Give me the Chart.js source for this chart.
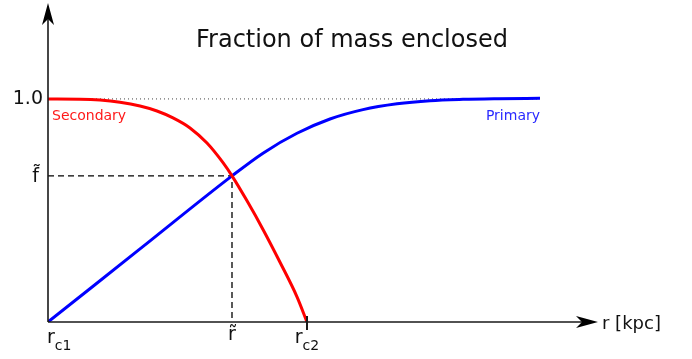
<!DOCTYPE html>
<html>
<head>
<meta charset="utf-8">
<script src="https://cdn.jsdelivr.net/npm/chart.js@4/dist/chart.umd.min.js"></script>
<style>
  html, body { margin: 0; padding: 0; background: #fff; }
  #wrap { width: 692px; height: 359px; position: relative; }
</style>
</head>
<body>
<div id="wrap"><canvas id="chart"></canvas></div>
<script>
// schematic: fraction of mass enclosed vs radius (arbitrary units)
const primaryR = [0, 0.92, 1.84, 2.15, 2.49, 2.82, 3.15, 3.49, 3.82, 4.15, 4.5, 4.92];
const primaryF = [0, 0.3275, 0.655, 0.757, 0.846, 0.910, 0.952, 0.978, 0.992, 0.998, 1.001, 1.003];

const secondaryR = [0, 0.32, 0.52, 0.72, 0.92, 1.09, 1.25, 1.42, 1.59, 1.75, 1.84, 1.99, 2.15, 2.32, 2.49, 2.59];
const secondaryF = [1.0, 0.999, 0.995, 0.985, 0.968, 0.946, 0.915, 0.870, 0.802, 0.714, 0.655, 0.543, 0.415, 0.268, 0.113, 0];

const rTilde = 1.84;   // crossing radius
const fTilde = 0.655;  // crossing fraction
const rc1 = 0;
const rc2 = 2.59;
const rEnd = 4.92;     // where the 1.0 reference line stops

const xMax = 5.5;
const yMax = 1.43;

const titleText = 'Fraction of mass enclosed';
const xAxisLabel = 'r [kpc]';

const toPts = (xs, ys) => xs.map((x, i) => ({ x: x, y: ys[i] }));

// axes with arrow heads, tick labels and annotations
const schematicPlugin = {
    id: 'schematic',
    afterDatasetsDraw(chart) {
        const ctx = chart.ctx;
        const xs = chart.scales.x;
        const ys = chart.scales.y;
        const x0 = xs.getPixelForValue(rc1);
        const y0 = ys.getPixelForValue(0);
        const xTip = xs.getPixelForValue(xMax);
        const yTip = ys.getPixelForValue(yMax);

        ctx.save();
        ctx.strokeStyle = '#1a1a1a';
        ctx.fillStyle = '#000';
        ctx.lineWidth = 1.6;
        ctx.beginPath();
        ctx.moveTo(x0, y0);
        ctx.lineTo(xTip - 10, y0);
        ctx.moveTo(x0, y0);
        ctx.lineTo(x0, yTip + 10);
        ctx.stroke();

        // arrow heads
        ctx.beginPath();
        ctx.moveTo(xTip, y0);
        ctx.lineTo(xTip - 22, y0 - 6);
        ctx.lineTo(xTip - 16, y0);
        ctx.lineTo(xTip - 22, y0 + 6);
        ctx.closePath();
        ctx.fill();
        ctx.beginPath();
        ctx.moveTo(x0, yTip);
        ctx.lineTo(x0 - 6, yTip + 22);
        ctx.lineTo(x0, yTip + 16);
        ctx.lineTo(x0 + 6, yTip + 22);
        ctx.closePath();
        ctx.fill();

        // tick at rc2
        const xc2 = xs.getPixelForValue(rc2);
        ctx.lineWidth = 2;
        ctx.beginPath();
        ctx.moveTo(xc2, y0 - 6);
        ctx.lineTo(xc2, y0 + 8);
        ctx.stroke();

        const font = (size) => size + 'px "DejaVu Sans", Verdana, sans-serif';

        // title
        ctx.fillStyle = '#111';
        ctx.font = font(24);
        ctx.textAlign = 'center';
        ctx.textBaseline = 'alphabetic';
        ctx.fillText(titleText, 352, 47);

        // y tick labels
        ctx.font = font(19);
        ctx.textAlign = 'right';
        ctx.textBaseline = 'middle';
        ctx.fillText('1.0', x0 - 5, ys.getPixelForValue(1.0));
        ctx.fillText('f\u0303', x0 - 9, ys.getPixelForValue(fTilde) + 1);

        // x tick labels
        ctx.textBaseline = 'alphabetic';
        const subLabel = (xPix, sub, center) => {
            ctx.font = font(19);
            const w1 = ctx.measureText('r').width;
            ctx.font = font(14);
            const w2 = ctx.measureText(sub).width;
            const left = center ? xPix - (w1 + w2) / 2 : xPix;
            ctx.textAlign = 'left';
            ctx.font = font(19);
            ctx.fillText('r', left, 343);
            ctx.font = font(14);
            ctx.fillText(sub, left + w1, 350);
        };
        subLabel(x0 - 1, 'c1', false);
        subLabel(xc2, 'c2', true);
        ctx.font = font(19);
        ctx.textAlign = 'center';
        ctx.fillText('r\u0303', xs.getPixelForValue(rTilde), 340);

        // axis label
        ctx.font = font(18);
        ctx.textAlign = 'left';
        ctx.textBaseline = 'middle';
        ctx.fillText(xAxisLabel, xTip + 4, y0 + 2);

        // curve labels
        ctx.font = font(14);
        ctx.textBaseline = 'middle';
        ctx.fillStyle = '#ff1a1a';
        ctx.textAlign = 'left';
        ctx.fillText('Secondary', x0 + 4, ys.getPixelForValue(1.0) + 17);
        ctx.fillStyle = '#2a2aff';
        ctx.textAlign = 'right';
        ctx.fillText('Primary', xs.getPixelForValue(rEnd), ys.getPixelForValue(1.0) + 17);
        ctx.restore();
    }
};

new Chart(document.getElementById('chart'), {
    type: 'line',
    data: {
        datasets: [
            {
                label: 'Secondary',
                data: toPts(secondaryR, secondaryF),
                borderColor: '#ff0000',
                borderWidth: 3,
                pointRadius: 0,
                cubicInterpolationMode: 'monotone',
                fill: false,
                order: 1
            },
            {
                label: 'Primary',
                data: toPts(primaryR, primaryF),
                borderColor: '#0000ff',
                borderWidth: 3,
                pointRadius: 0,
                cubicInterpolationMode: 'monotone',
                fill: false,
                order: 2
            },
            {
                label: 'unity',
                data: [{ x: 0, y: 1.0 }, { x: rEnd, y: 1.0 }],
                borderColor: '#444',
                borderWidth: 1,
                borderDash: [1, 3],
                pointRadius: 0,
                fill: false,
                order: 3
            },
            {
                label: 'crossing',
                data: [{ x: 0, y: fTilde }, { x: rTilde, y: fTilde }, { x: rTilde, y: 0 }],
                borderColor: '#000',
                borderWidth: 1.3,
                borderDash: [6, 4],
                pointRadius: 0,
                fill: false,
                order: 3
            }
        ]
    },
    options: {
        responsive: true,
        maintainAspectRatio: false,
        animation: false,
        layout: { padding: { left: 48, right: 94, top: 3, bottom: 37 } },
        plugins: {
            legend: { display: false },
            tooltip: { enabled: false },
            title: { display: false }
        },
        scales: {
            x: { type: 'linear', min: 0, max: xMax, display: false },
            y: { type: 'linear', min: 0, max: yMax, display: false }
        }
    },
    plugins: [schematicPlugin]
});
</script>
</body>
</html>
